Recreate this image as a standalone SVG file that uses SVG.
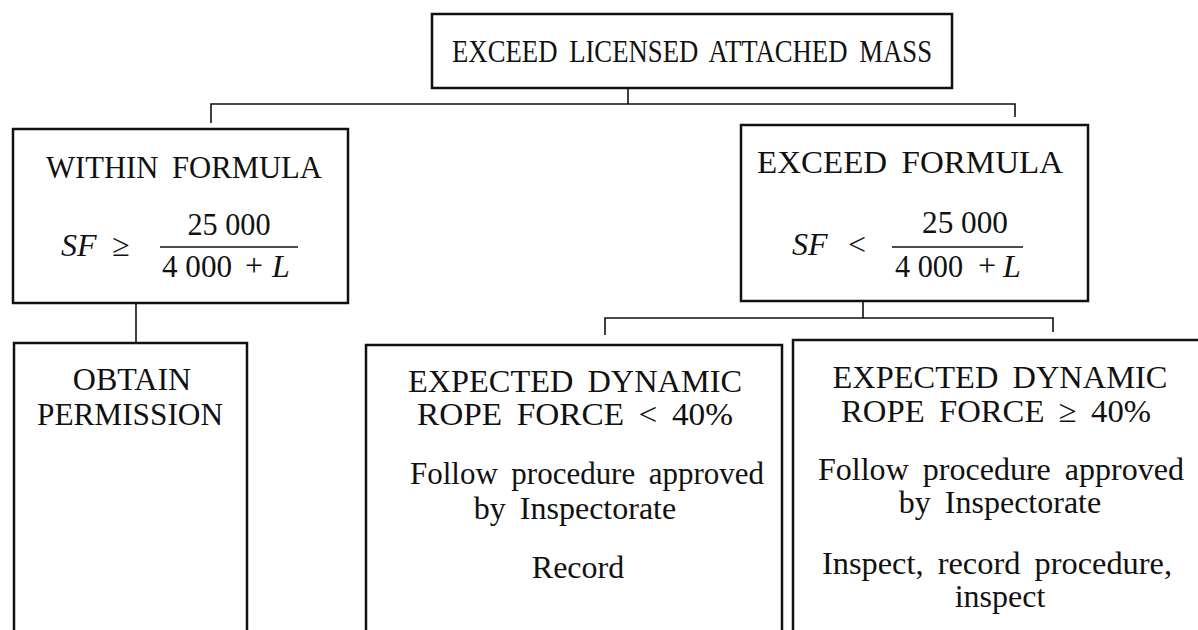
<svg xmlns="http://www.w3.org/2000/svg" width="1198" height="630" viewBox="0 0 1198 630">
  <style>
    .box { fill: #fff; stroke: #111; stroke-width: 2.5; }
    .wire { fill: none; stroke: #111; stroke-width: 1.6; }
    .t { font-family: "Liberation Serif", "Times New Roman", serif; font-size: 32px; fill: #111; text-anchor: middle; word-spacing: 6px; }
    .n { word-spacing: 0; }
    .s { text-anchor: start; }
    .it { font-style: italic; }
    .bar { stroke: #111; stroke-width: 1.6; }
  </style>
  <rect width="1198" height="630" fill="#fff"/>

  <!-- connectors -->
  <g id="connectors">
    <path class="wire" d="M628,88 V104 M211,123 V104 H1015 V117"/>
    <path class="wire" d="M136,303 V343"/>
    <path class="wire" d="M863,301 V318 M605,335 V318 H1053 V332"/>
  </g>

  <g id="node-exceed-mass">
    <rect class="box" x="432" y="14" width="520" height="74"/>
    <text class="t" x="692" y="62" font-size="31" textLength="480" lengthAdjust="spacingAndGlyphs">EXCEED LICENSED ATTACHED MASS</text>
  </g>

  <g id="node-within-formula">
    <rect class="box" x="13" y="129" width="335" height="174"/>
    <text class="t" x="184" y="178" textLength="276" lengthAdjust="spacingAndGlyphs">WITHIN FORMULA</text>
    <text class="t s it" x="61" y="256" font-size="31">SF</text>
    <text class="t" x="121" y="256">≥</text>
    <text class="t n" x="229" y="235" textLength="83" lengthAdjust="spacingAndGlyphs">25 000</text>
    <line class="bar" x1="160" y1="247" x2="298" y2="247"/>
    <text class="t s n" x="162" y="277" textLength="70" lengthAdjust="spacingAndGlyphs">4 000</text>
    <text class="t" x="254" y="276" font-size="24">+</text>
    <text class="t s it" x="272" y="277">L</text>
  </g>

  <g id="node-exceed-formula">
    <rect class="box" x="741" y="125" width="347" height="176"/>
    <text class="t" x="910" y="173" textLength="306" lengthAdjust="spacingAndGlyphs">EXCEED FORMULA</text>
    <text class="t s it" x="792" y="255" font-size="31">SF</text>
    <text class="t" x="857" y="255">&lt;</text>
    <text class="t n" x="965" y="233" textLength="86" lengthAdjust="spacingAndGlyphs">25 000</text>
    <line class="bar" x1="892" y1="247" x2="1023" y2="247"/>
    <text class="t s n" x="895" y="277" textLength="68" lengthAdjust="spacingAndGlyphs">4 000</text>
    <text class="t" x="987" y="276" font-size="24">+</text>
    <text class="t s it" x="1003" y="277">L</text>
  </g>

  <g id="node-obtain-permission">
    <rect class="box" x="14" y="343" width="233" height="300"/>
    <text class="t" x="132" y="390">OBTAIN</text>
    <text class="t" x="130" y="425" textLength="186" lengthAdjust="spacingAndGlyphs">PERMISSION</text>
  </g>

  <g id="node-force-below">
    <rect class="box" x="366" y="345" width="416" height="300"/>
    <text class="t" x="575" y="392" textLength="334" lengthAdjust="spacingAndGlyphs">EXPECTED DYNAMIC</text>
    <text class="t" x="575" y="425" textLength="316" lengthAdjust="spacingAndGlyphs">ROPE FORCE &lt; 40%</text>
    <text class="t" x="587" y="484" textLength="354" lengthAdjust="spacingAndGlyphs">Follow procedure approved</text>
    <text class="t" x="575" y="519">by Inspectorate</text>
    <text class="t" x="578" y="578">Record</text>
  </g>

  <g id="node-force-above">
    <rect class="box" x="793" y="340" width="420" height="300"/>
    <text class="t" x="1000" y="388" textLength="335" lengthAdjust="spacingAndGlyphs">EXPECTED DYNAMIC</text>
    <text class="t" x="996" y="422" textLength="310" lengthAdjust="spacingAndGlyphs">ROPE FORCE ≥ 40%</text>
    <text class="t" x="1001" y="480" textLength="366" lengthAdjust="spacingAndGlyphs">Follow procedure approved</text>
    <text class="t" x="1000" y="513">by Inspectorate</text>
    <text class="t" x="997" y="574" textLength="350" lengthAdjust="spacingAndGlyphs">Inspect, record procedure,</text>
    <text class="t" x="1000" y="607">inspect</text>
  </g>
</svg>
